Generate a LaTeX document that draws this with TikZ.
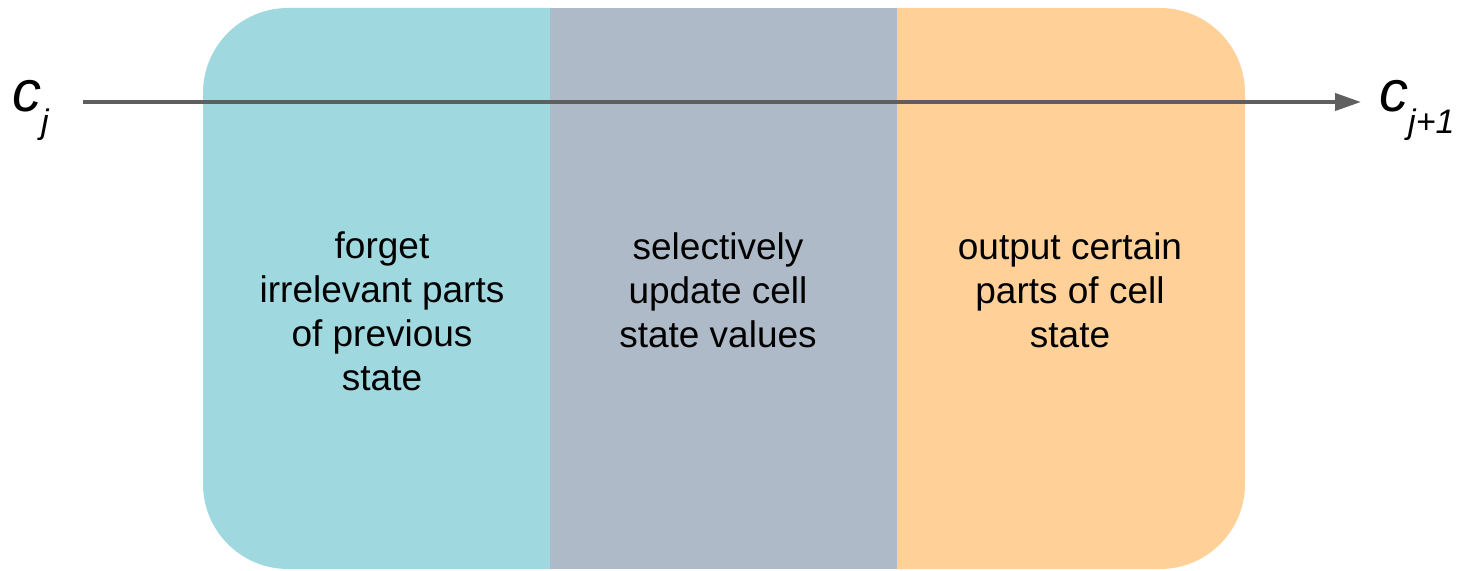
\documentclass[tikz,border=0pt]{standalone}
\usepackage{fontspec}
\setmainfont{Liberation Sans}
\usetikzlibrary{arrows.meta}
\definecolor{forgetcol}{HTML}{A0D8E0}
\definecolor{updatecol}{HTML}{AFBAC8}
\definecolor{outputcol}{HTML}{FFD199}
\definecolor{arrowcol}{HTML}{5F5F5F}
\tikzset{
  gatetext/.style={anchor=north, inner sep=0pt, align=center,
    font=\fontsize{37}{44}\selectfont, text=black},
  statelabel/.style={anchor=base west, inner sep=0pt, text=black},
  flow/.style={draw=arrowcol, line width=4pt,
    -{Triangle[length=26pt,width=17pt]}}
}
\newcommand{\statec}[1]{{\fontsize{58}{58}\selectfont\itshape c}\raisebox{-22pt}{\fontsize{34}{34}\selectfont\itshape #1}}
\begin{document}
\begin{tikzpicture}[x=1pt,y=1pt]
\useasboundingbox (0,0) rectangle (1469,570);
% three panels
\fill[forgetcol] (550.5,562) -- (288,562) arc[start angle=90,end angle=180,radius=85]
  -- (203,86) arc[start angle=180,end angle=270,radius=85] -- (550.5,1) -- cycle;
\fill[updatecol] (550,1) rectangle (897.5,562);
\fill[outputcol] (897,562) -- (1160,562) arc[start angle=90,end angle=0,radius=85]
  -- (1245,86) arc[start angle=0,end angle=-90,radius=85] -- (897,1) -- cycle;
% texts
\node[gatetext] (forget) at (382,338) {forget\\irrelevant parts\\of previous\\state};
\node[gatetext] (update) at (718,338) {selectively\\update cell\\state values};
\node[gatetext] (output) at (1070,338) {output certain\\parts of cell\\state};
% state labels
\node[statelabel] (cj) at (12,458) {\statec{j}};
\node[statelabel] (cj1) at (1379,458) {\statec{j+1}};
% cell state line
\coordinate (flowstart) at (83,468);
\coordinate (flowend) at (1361,468);
\draw[flow] (flowstart) -- (flowend);
\end{tikzpicture}
\end{document}
